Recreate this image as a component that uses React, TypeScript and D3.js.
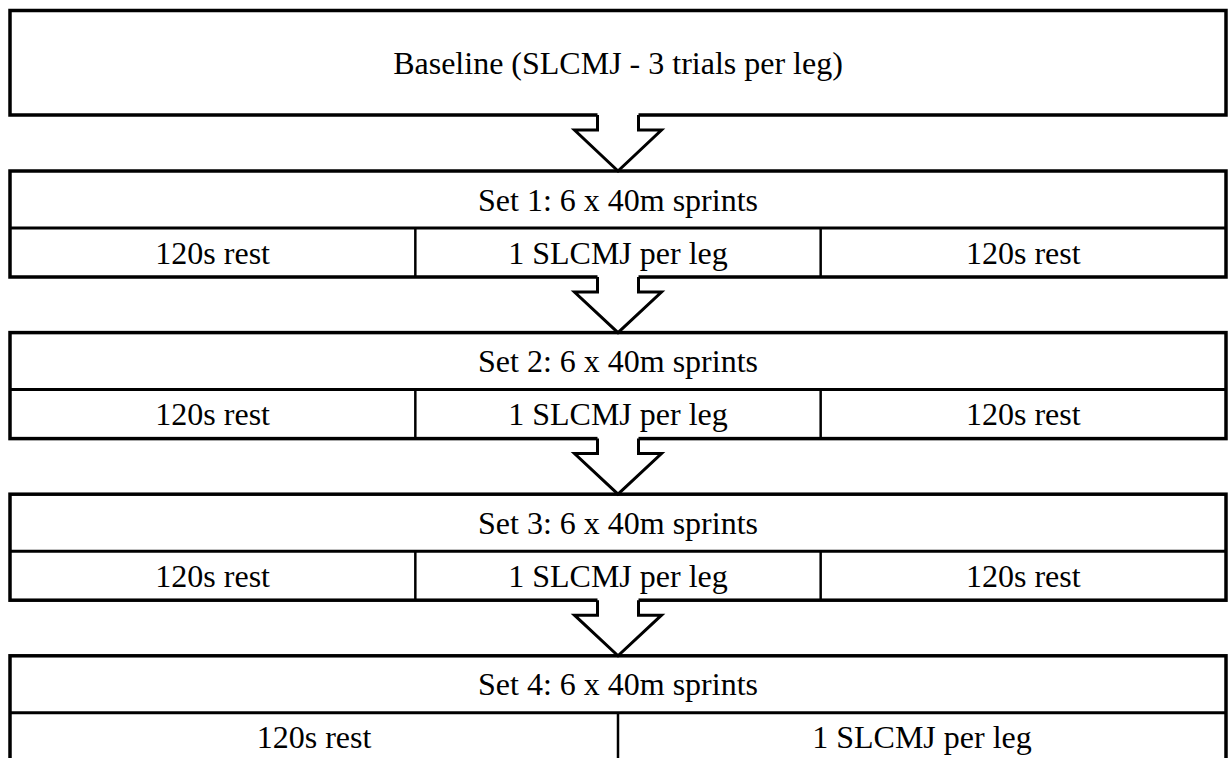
import * as d3 from "d3";

const WIDTH = 1228;
const HEIGHT = 758;

// protocol content
const baselineLabel = "Baseline (SLCMJ - 3 trials per leg)";
const setTitles = [
  "Set 1: 6 x 40m sprints",
  "Set 2: 6 x 40m sprints",
  "Set 3: 6 x 40m sprints",
  "Set 4: 6 x 40m sprints",
];
const setCells = [
  ["120s rest", "1 SLCMJ per leg", "120s rest"],
  ["120s rest", "1 SLCMJ per leg", "120s rest"],
  ["120s rest", "1 SLCMJ per leg", "120s rest"],
  ["120s rest", "1 SLCMJ per leg"],
];

const FONT = "'Liberation Serif', 'Times New Roman', serif";
const FONT_SIZE = 32;

// layout
const left = 10;
const right = 1226;
const baseTop = 10.5;
const baseBottom = 115;
const firstSetTop = 171;
const setStep = 161.6;
const titleH = 57;
const cellH = 49;

const x = d3.scaleLinear().domain([0, 1]).range([left, right]);
const setY = d3
  .scaleLinear()
  .domain([0, 1])
  .range([firstSetTop, firstSetTop + setStep]);

const cx = x(0.5);
const shaftHalf = 20.5;
const wingHalf = 43.5;
const shaftLen = 15;

function Arrow({ top, tip }: { top: number; tip: number }) {
  const wingY = top + shaftLen;
  const pts: [number, number][] = [
    [cx - shaftHalf, top],
    [cx - shaftHalf, wingY],
    [cx - wingHalf, wingY],
    [cx, tip],
    [cx + wingHalf, wingY],
    [cx + shaftHalf, wingY],
    [cx + shaftHalf, top],
  ];
  const line = d3.line();
  const fillPts: [number, number][] = [
    [cx - shaftHalf, top - 3],
    ...pts.slice(1, -1),
    [cx + shaftHalf, top - 3],
  ];
  return (
    <g>
      <path d={line(fillPts) + "Z"} fill="#fff" stroke="none" />
      <path
        d={line(pts) ?? ""}
        fill="none"
        stroke="#000"
        strokeWidth={3}
        strokeLinejoin="miter"
      />
    </g>
  );
}

export default function App() {
  const textProps = {
    fontFamily: FONT,
    fontSize: FONT_SIZE,
    textAnchor: "middle" as const,
    dominantBaseline: "central" as const,
    fill: "#000",
  };

  return (
    <svg
      width={WIDTH}
      height={HEIGHT}
      style={{ position: "absolute", left: 0, top: 0, background: "#fff" }}
    >
      <rect x={0} y={0} width={WIDTH} height={HEIGHT} fill="#fff" />

      {/* baseline box */}
      <rect
        x={left}
        y={baseTop}
        width={right - left}
        height={baseBottom - baseTop}
        fill="#fff"
        stroke="#000"
        strokeWidth={3.5}
      />
      <text x={cx} y={(baseTop + baseBottom) / 2} {...textProps}>
        {baselineLabel}
      </text>

      {setTitles.map((title, i) => {
        const top = setY(i);
        const mid = top + titleH;
        const bottom = mid + cellH;
        const cells = setCells[i];
        const colX = d3
          .scaleLinear()
          .domain([0, cells.length])
          .range([left, right]);
        return (
          <g key={title}>
            <rect
              x={left}
              y={top}
              width={right - left}
              height={bottom - top}
              fill="#fff"
              stroke="#000"
              strokeWidth={3.5}
            />
            <line
              x1={left}
              x2={right}
              y1={mid}
              y2={mid}
              stroke="#000"
              strokeWidth={3}
            />
            {cells.slice(1).map((_, j) => (
              <line
                key={j}
                x1={colX(j + 1)}
                x2={colX(j + 1)}
                y1={mid}
                y2={bottom}
                stroke="#000"
                strokeWidth={2.5}
              />
            ))}
            <text x={cx} y={(top + mid) / 2} {...textProps}>
              {title}
            </text>
            {cells.map((c, j) => (
              <text
                key={j}
                x={(colX(j) + colX(j + 1)) / 2}
                y={(mid + bottom) / 2}
                {...textProps}
              >
                {c}
              </text>
            ))}
          </g>
        );
      })}

      {/* arrows between stages */}
      <Arrow top={baseBottom} tip={setY(0)} />
      {setTitles.slice(1).map((t, i) => (
        <Arrow key={t} top={setY(i) + titleH + cellH} tip={setY(i + 1)} />
      ))}
    </svg>
  );
}
